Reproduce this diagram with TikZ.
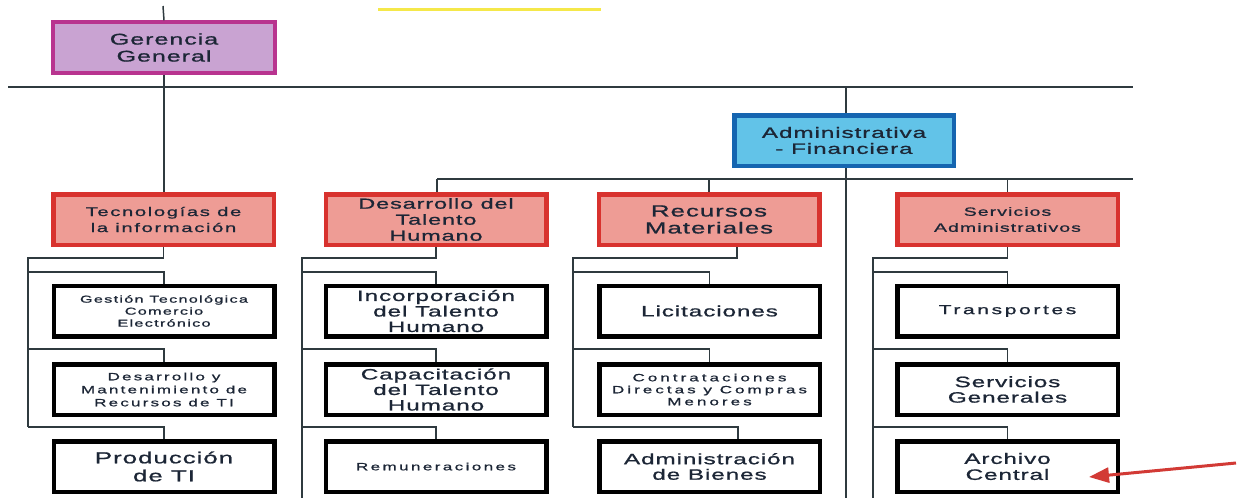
\documentclass[tikz,border=0pt]{standalone}
\usepackage{fontspec}
\usetikzlibrary{arrows.meta,calc}
\newfontfamily\wf[FakeStretch=1.62,LetterSpace=6,FakeBold=1]{Liberation Sans}
\definecolor{lilac}{HTML}{C9A3D2}
\definecolor{magb}{HTML}{B8348F}
\definecolor{skyf}{HTML}{62C3E8}
\definecolor{blueb}{HTML}{1565B0}
\definecolor{salmon}{HTML}{EE9C95}
\definecolor{redb}{HTML}{D8322E}
\definecolor{linec}{HTML}{2F3A3F}
\definecolor{txt}{HTML}{1C2636}
\definecolor{arrred}{HTML}{D23A35}
\definecolor{yel}{HTML}{F5E84A}
\tikzset{
  box/.style={draw, inner sep=0pt, align=center, text=txt},
  gbox/.style={box, fill=lilac, draw=magb, line width=3.5pt, minimum width=222pt, minimum height=51pt},
  abox/.style={box, fill=skyf, draw=blueb, line width=4.5pt, minimum width=219.5pt, minimum height=50.5pt},
  rbox/.style={box, fill=salmon, draw=redb, line width=4.5pt, minimum width=220.5pt, minimum height=50.5pt},
  sbox/.style={box, fill=white, draw=black, line width=4.5pt, minimum width=220.5pt, minimum height=50.5pt},
  conn/.style={draw=linec, line width=1.5pt},
}
\begin{document}
\begin{tikzpicture}[x=1pt,y=-1pt]
\useasboundingbox[fill=white] (0,0) rectangle (1241,498);
% yellow line
\draw[yel, line width=3pt] (378,9) -- (601,9);
% top-level boxes
\node[gbox, font=\wf\fontsize{15.5}{17}\selectfont] (gg) at (164,47.5) {Gerencia\\General};
\node[abox, font=\wf\fontsize{15}{16}\selectfont] (af) at (844,140.5) {Administrativa\\- Financiera};
% department boxes
\node[rbox, font=\wf\addfontfeatures{LetterSpace=13}\fontsize{12.5}{16}\selectfont] (ti) at (163.5,219.5) {Tecnologías de\\la información};
\node[rbox, font=\wf\fontsize{14.5}{16}\selectfont] (dth) at (436,219.5) {Desarrollo del\\Talento\\Humano};
\node[rbox, font=\wf\fontsize{16}{17}\selectfont] (rm) at (709,219.5) {Recursos\\Materiales};
\node[rbox, font=\wf\addfontfeatures{LetterSpace=9}\fontsize{12}{16}\selectfont] (sa) at (1007.5,219.5) {Servicios\\Administrativos};
% column 1
\node[sbox, font=\wf\addfontfeatures{LetterSpace=13}\fontsize{10}{12}\selectfont] (gt) at (164,311) {Gestión Tecnológica\\Comercio\\Electrónico};
\node[sbox, font=\wf\addfontfeatures{LetterSpace=21}\fontsize{10.5}{13}\selectfont] (dm) at (164,389.5) {Desarrollo y\\Mantenimiento de\\Recursos de TI};
\node[sbox, font=\wf\fontsize{16}{18}\selectfont] (pt) at (164,466.5) {Producción\\de TI};
% column 2
\node[sbox, font=\wf\fontsize{15}{15.5}\selectfont] (it) at (436,311) {Incorporación\\del Talento\\Humano};
\node[sbox, font=\wf\fontsize{15}{15.5}\selectfont] (ct) at (436,389.5) {Capacitación\\del Talento\\Humano};
\node[sbox, font=\wf\addfontfeatures{LetterSpace=23}\fontsize{10.5}{13}\selectfont] (re) at (436,466.5) {Remuneraciones};
% column 3
\node[sbox, font=\wf\fontsize{15}{16}\selectfont] (li) at (709.5,311) {Licitaciones};
\node[sbox, font=\wf\addfontfeatures{LetterSpace=29}\fontsize{10.5}{12}\selectfont] (cd) at (709.5,389.5) {Contrataciones\\Directas y Compras\\Menores};
\node[sbox, font=\wf\fontsize{15}{15.5}\selectfont] (ab) at (709.5,466.5) {Administración\\de Bienes};
% column 4
\node[sbox, font=\wf\addfontfeatures{LetterSpace=20}\fontsize{13}{15}\selectfont] (tr) at (1007.5,311) {Transportes};
\node[sbox, font=\wf\fontsize{15}{15.5}\selectfont] (sg) at (1007.5,389.5) {Servicios\\Generales};
\node[sbox, font=\wf\fontsize{15}{16}\selectfont] (ac) at (1007.5,466.5) {Archivo\\Central};
% coordinates
\coordinate (gtop) at (163,6);
\coordinate (hl) at (8,87);
\coordinate (hr) at (1133,87);
\coordinate (hm) at (846,87);
\coordinate (hb) at (846,498);
\coordinate (h2l) at (437,179);
\coordinate (h2r) at (1133,179);
\coordinate (c1a) at (28,258);   \coordinate (c1b) at (28,427);
\coordinate (c2a) at (302,258);  \coordinate (c2b) at (302,498);
\coordinate (c3a) at (573,258);  \coordinate (c3b) at (573,427);
\coordinate (c4a) at (873,258);  \coordinate (c4b) at (873,498);
% connectors
\draw[conn] (gtop) -- (gg.north);
\draw[conn] (hl) -- (hr);
\draw[conn] (gg.south) -- (ti.north -| gg.south);
\draw[conn] (hm) -- (af.north -| hm);
\draw[conn] (af.south -| hm) -- (hb);
\draw[conn] (h2l) -- (h2r);
\draw[conn] (h2l) -- (dth.north -| h2l);
\draw[conn] (rm.north |- h2l) -- (rm.north);
\draw[conn] (sa.north |- h2l) -- (sa.north);
% column 1 tree
\draw[conn] (ti.south) |- (c1a) -- (c1b);
\draw[conn] (c1a |- 0,272) -| (gt.north);
\draw[conn] (c1a |- 0,349) -| (dm.north);
\draw[conn] (c1b) -| (pt.north);
% column 2 tree
\draw[conn] (dth.south) |- (c2a) -- (c2b);
\draw[conn] (c2a |- 0,272) -| (it.north);
\draw[conn] (c2a |- 0,349) -| (ct.north);
\draw[conn] (c2a |- 0,427) -| (re.north);
% column 3 tree
\draw[conn] ([xshift=28pt]rm.south) |- (c3a) -- (c3b);
\draw[conn] (c3a |- 0,272) -| (li.north);
\draw[conn] (c3a |- 0,349) -| (cd.north);
\draw[conn] (c3b) -| ([xshift=28.5pt]ab.north);
% column 4 tree
\draw[conn] (sa.south) |- (c4a) -- (c4b);
\draw[conn] (c4a |- 0,272) -| (tr.north);
\draw[conn] (c4a |- 0,349) -| (sg.north);
\draw[conn] (c4a |- 0,427) -| (ac.north);
% red arrow
\coordinate (arrtail) at (1236,463);
\draw[arrred, line width=3pt, -{Triangle[length=20pt,width=15pt]}] (arrtail) -- ([xshift=-31pt,yshift=-10.5pt]ac.east);
\end{tikzpicture}
\end{document}
